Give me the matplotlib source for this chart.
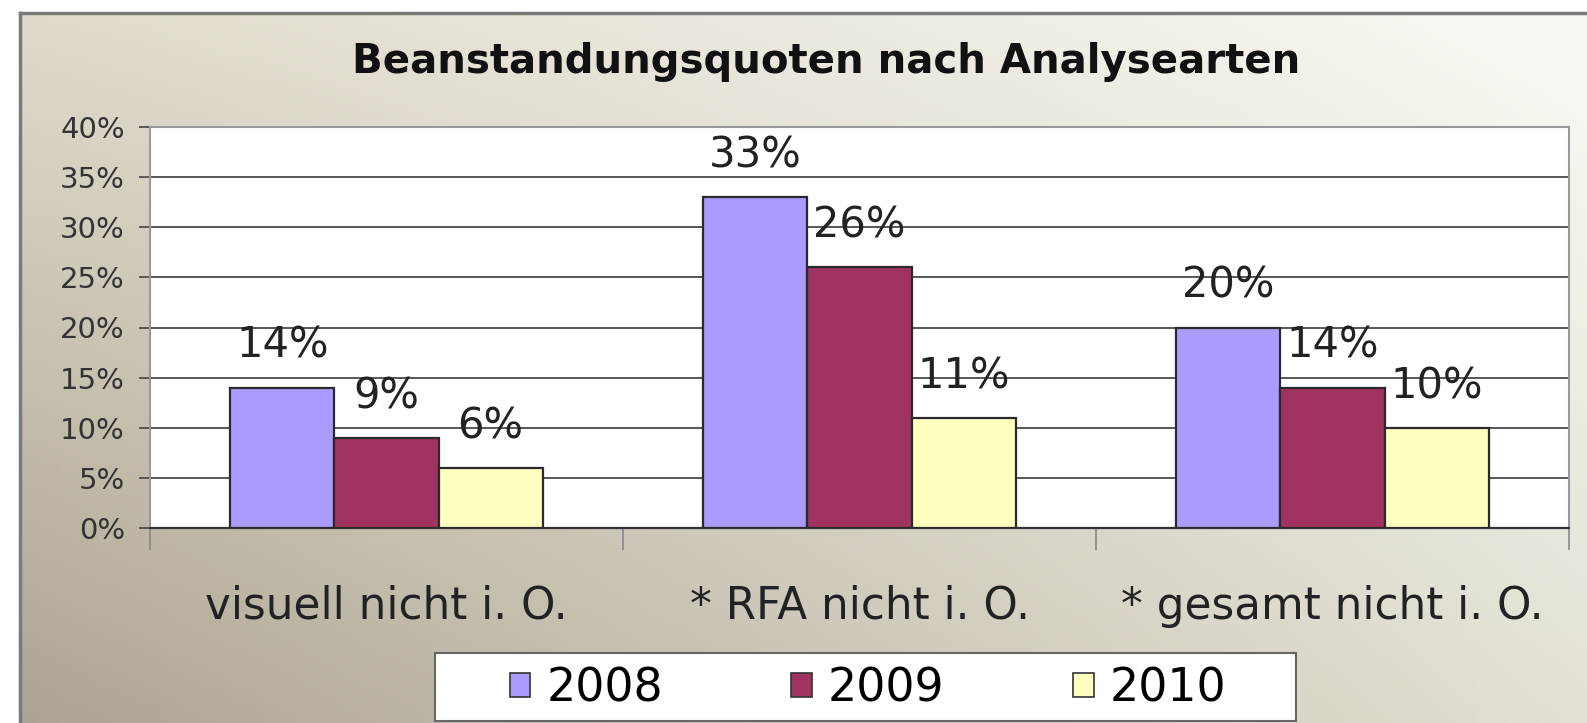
import numpy as np
import matplotlib
matplotlib.use("Agg")
import matplotlib.pyplot as plt
from matplotlib.patches import Patch, Rectangle

# data
categories = ["visuell nicht i. O.", "* RFA nicht i. O.", "* gesamt nicht i. O."]
years = ["2008", "2009", "2010"]
vals_2008 = [14, 33, 20]
vals_2009 = [9, 26, 14]
vals_2010 = [6, 11, 10]
y_ticks = [0, 5, 10, 15, 20, 25, 30, 35, 40]
title = "Beanstandungsquoten nach Analysearten"

colors = ["#ab9bff", "#a0335f", "#ffffc0"]

plt.rcParams['font.family'] = ['DejaVu Sans']

W, H = 1587, 723
fig = plt.figure(figsize=(W / 100, H / 100), dpi=100)
fig.patch.set_facecolor("white")

# gradient background inside the frame
x0 = 20 / W
y1 = 1 - 13 / H
bg = fig.add_axes([x0, -0.01, 1.01 - x0, y1 + 0.01])
tl = np.array([224, 219, 204]) / 255
tr = np.array([250, 249, 244]) / 255
bl = np.array([172, 164, 146]) / 255
br = np.array([228, 225, 212]) / 255
u = np.linspace(0, 1, 200)[None, :, None]
v = np.linspace(0, 1, 100)[:, None, None]
grad = (1 - v) * ((1 - u) * tl + u * tr) + v * ((1 - u) * bl + u * br)
bg.imshow(grad, extent=[0, 1, 0, 1], aspect="auto", origin="upper")
bg.set_xlim(0, 1)
bg.set_ylim(0, 1)
bg.set_xticks([])
bg.set_yticks([])
for s in ["right", "bottom"]:
    bg.spines[s].set_visible(False)
for s in ["left", "top"]:
    bg.spines[s].set_color("#7a7a7a")
    bg.spines[s].set_linewidth(2.5)

# main plot area
left, right = 150 / W, 1569 / W
bottom, top = 1 - 528 / H, 1 - 127 / H
ax = fig.add_axes([left, bottom, right - left, top - bottom])
ax.set_facecolor("white")

x = np.arange(len(categories))
w = 0.22
series = [vals_2008, vals_2009, vals_2010]
for i, (vals, c) in enumerate(zip(series, colors)):
    xs = x + (i - 1) * w
    ax.bar(xs, vals, width=w, color=c, edgecolor="#2a2a2a", linewidth=1.6, zorder=3)
    for xi, vi in zip(xs, vals):
        ax.annotate(f"{vi}%", (xi, vi), xytext=(0, 30), textcoords="offset points",
                    ha="center", va="center", fontsize=30, color="#222222", zorder=4)

ax.set_xlim(-0.5, 2.5)
ax.set_ylim(0, 40)
ax.set_yticks(y_ticks)
ax.set_yticklabels([f"{t}%" for t in y_ticks], fontsize=21, color="#333333")
ax.yaxis.grid(True, color="#4a4a4a", linewidth=1.3, zorder=1)
ax.set_axisbelow(True)
ax.tick_params(axis="y", length=8, width=1.2, color="#444444", pad=10)

ax.set_xticks([-0.5, 0.5, 1.5, 2.5])
ax.set_xticklabels([])
ax.tick_params(axis="x", length=16, width=1.2, color="#888888")

for s in ["top", "right", "left"]:
    ax.spines[s].set_color("#999999")
    ax.spines[s].set_linewidth(1.5)
ax.spines["bottom"].set_color("#333333")
ax.spines["bottom"].set_linewidth(1.6)

for xi, cat in zip(x, categories):
    ax.text(xi, -(606 - 528) / 401, cat, transform=ax.get_xaxis_transform(),
            ha="center", va="center", fontsize=31.5, color="#222222")

fig.text(826 / W, 1 - 62 / H, title, ha="center", va="center",
         fontsize=29, fontweight="bold", color="#111111")

# legend box drawn separately so its size matches
fig.patches.append(Rectangle((435 / W, 1 - 721 / H), (1296 - 435) / W, (721 - 653) / H,
                             transform=fig.transFigure, facecolor="white",
                             edgecolor="#666666", linewidth=1.5, zorder=5))
handles = [Patch(facecolor=c, edgecolor="#333333", linewidth=1.2) for c in colors]
leg = fig.legend(handles, years, loc="center", bbox_to_anchor=(868 / W, 1 - 689 / H),
                 ncol=3, fontsize=33, frameon=False,
                 handlelength=0.45, handleheight=0.45, handletextpad=0.35,
                 columnspacing=2.8, borderpad=0, borderaxespad=0)
leg.set_zorder(6)

fig.savefig("out.png", dpi=100)
